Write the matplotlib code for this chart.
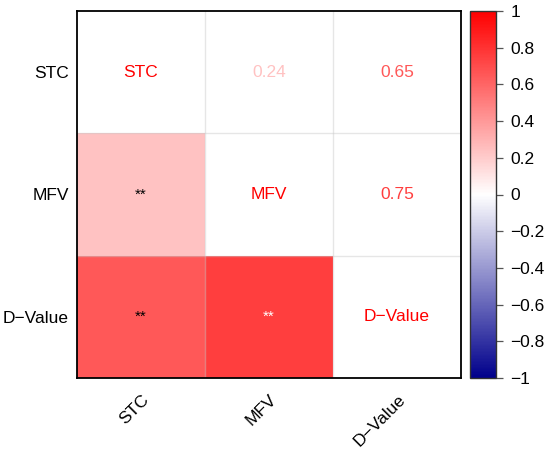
import numpy as np
import matplotlib
matplotlib.use("Agg")
import matplotlib.pyplot as plt
from matplotlib.colors import LinearSegmentedColormap, Normalize
from matplotlib.transforms import ScaledTranslation

plt.rcParams['font.family'] = ['Liberation Sans', 'DejaVu Sans']

# ---- data ----
labels = ["STC", "MFV", "D\u2212Value"]
# pairwise correlations (row, col) lower triangle
pair_rows = [1, 2, 2]
pair_cols = [0, 0, 1]
pair_vals = [0.24, 0.65, 0.75]
pair_sig = ["**", "**", "**"]
cbar_ticks = [-1, -0.8, -0.6, -0.4, -0.2, 0, 0.2, 0.4, 0.6, 0.8, 1]

n = len(labels)
corr = np.eye(n)
for r, c, v in zip(pair_rows, pair_cols, pair_vals):
    corr[r, c] = v
    corr[c, r] = v

lower = np.ma.masked_array(corr, mask=~np.tril(np.ones((n, n), bool), k=-1))

cmap = LinearSegmentedColormap.from_list("bwr2", ["#00008B", "#FFFFFF", "#FF0000"], N=256)
norm = Normalize(-1, 1)

fig = plt.figure(figsize=(5.5, 4.49), dpi=100)
W, H = 550, 449
ax = fig.add_axes([77 / W, 1 - 378 / H, 384 / W, 367 / H])
cax = fig.add_axes([470 / W, 1 - 378 / H, 26 / W, 367 / H])

ax.set_facecolor("white")
edges = np.arange(n + 1) - 0.5
im = ax.pcolormesh(edges, edges, lower, cmap=cmap, norm=norm, shading="flat",
                   edgecolors="none", antialiased=False, snap=True)
ax.set_xlim(-0.5, n - 0.5)
ax.set_ylim(n - 0.5, -0.5)

# grid lines
for k in range(1, n):
    ax.axhline(k - 0.5, color="#C8C8C8", lw=1.0, alpha=0.45, zorder=3)
    ax.axvline(k - 0.5, color="#C8C8C8", lw=1.0, alpha=0.45, zorder=3)

# texts
fs = 12.5
for i in range(n):
    ax.text(i, i, labels[i], color="#FF0000", ha="center", va="center", fontsize=fs, zorder=4)
for r, c, v, s in zip(pair_rows, pair_cols, pair_vals, pair_sig):
    # upper triangle: numbers coloured by value
    ax.text(r, c, f"{v:.2f}", color=cmap(norm(v)), ha="center", va="center", fontsize=fs, zorder=4)
    # lower triangle: significance stars
    ax.text(c, r, s, color="white" if v > 0.7 else "black", ha="center", va="center",
            fontsize=11, zorder=4)

for sp in ax.spines.values():
    sp.set_linewidth(1.3)
    sp.set_color("black")
    sp.set_zorder(5)

ax.set_xticks(range(n))
ax.set_yticks(range(n))
ax.set_yticklabels(labels, fontsize=fs)
ax.set_xticklabels(labels, fontsize=fs, rotation=45, ha="right", va="top")
ax.tick_params(axis="both", length=0)
ax.tick_params(axis="y", pad=5.8)
ax.tick_params(axis="x", pad=10)
off = ScaledTranslation(11 / 100, 0, fig.dpi_scale_trans)
for lab in ax.get_xticklabels():
    lab.set_transform(lab.get_transform() + off)

cb = fig.colorbar(im, cax=cax, ticks=cbar_ticks)
cb.ax.set_yticklabels([f"{t:g}".replace("-", "\u2212") for t in cbar_ticks], fontsize=fs)
cb.ax.tick_params(length=5, width=0.9, color="#555555", pad=5.5)
cb.outline.set_edgecolor("#333333")
cb.outline.set_linewidth(1.0)

fig.savefig("out.png", dpi=100)
